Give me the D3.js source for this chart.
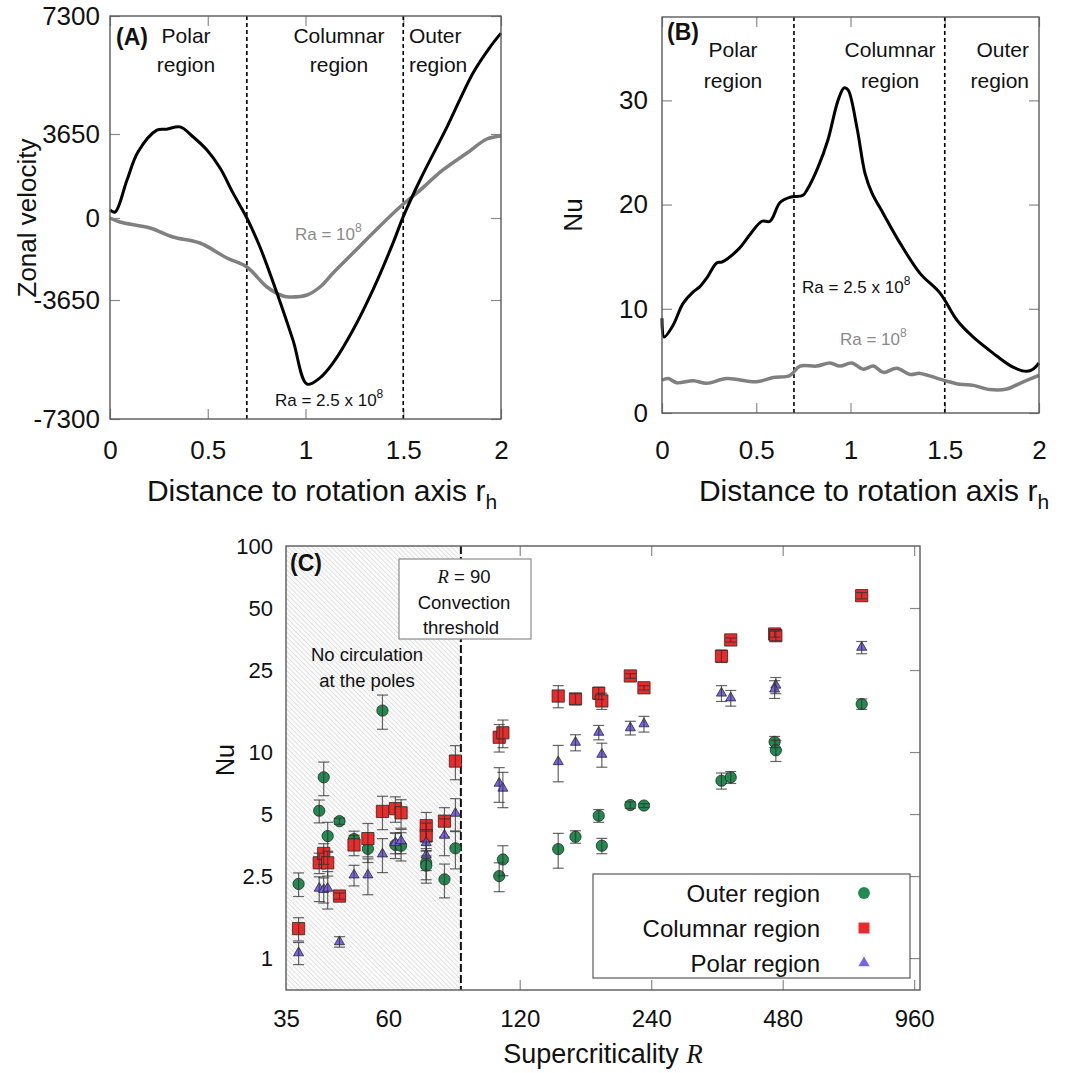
<!DOCTYPE html>
<html><head><meta charset="utf-8">
<script src="https://cdn.jsdelivr.net/npm/d3@7"></script>
<style>
body{margin:0;background:#fff}
svg{display:block}
text{font-family:"Liberation Sans",Arial,Helvetica,sans-serif;fill:#111}
</style>
</head><body>
<svg id="chart" width="1089" height="1073"></svg>
<script>
// ---------------- Panel A: zonal velocity ----------------
const rA_high = [0, 0.026, 0.087, 0.143, 0.24, 0.29, 0.358, 0.426, 0.496, 0.563, 0.629, 0.70, 0.767, 0.854, 0.936, 1.008, 1.074, 1.141, 1.243, 1.345, 1.448, 1.499, 1.586, 1.724, 1.857, 1.944, 2.0];
const vA_high = [350, 260, 1650, 2870, 3770, 3800, 3870, 3520, 2950, 2170, 1090, 0, -1290, -3340, -4880, -6230, -6040, -5580, -4570, -3200, -1110, 40, 1650, 3870, 5540, 6340, 6770];
const rA_low = [0, 0.051, 0.205, 0.322, 0.46, 0.598, 0.70, 0.803, 0.885, 0.92, 1.008, 1.074, 1.141, 1.243, 1.345, 1.483, 1.57, 1.703, 1.826, 1.928, 2.0];
const vA_low = [0, -180, -445, -846, -1113, -1780, -2181, -3072, -3472, -3517, -3428, -3072, -2448, -1558, -668, 478, 1086, 2086, 2824, 3433, 3563];
const yTicksA = [-7300, -3650, 0, 3650, 7300];

// ---------------- Panel B: Nusselt profile ----------------
const rB_high = [0, 0.011, 0.058, 0.111, 0.164, 0.2, 0.239, 0.29, 0.32, 0.41, 0.47, 0.53, 0.573, 0.626, 0.679, 0.748, 0.769, 0.828, 0.88, 0.934, 0.966, 0.987, 1.034, 1.077, 1.114, 1.172, 1.263, 1.369, 1.475, 1.565, 1.65, 1.756, 1.862, 1.936, 1.968, 2.0];
const nuB_high = [9.1, 7.3, 8.4, 10.5, 11.6, 12.1, 13.0, 14.4, 14.5, 15.8, 17.2, 18.4, 18.4, 20.2, 20.7, 20.9, 21.4, 23.6, 26.2, 30.0, 31.2, 31.0, 27.4, 23.0, 21.1, 19.2, 16.3, 13.4, 11.5, 8.9, 7.3, 5.75, 4.4, 4.0, 4.2, 4.8];
const rB_low = [0, 0.034, 0.078, 0.166, 0.237, 0.343, 0.502, 0.59, 0.679, 0.732, 0.82, 0.891, 0.944, 1.006, 1.068, 1.121, 1.174, 1.245, 1.316, 1.369, 1.492, 1.581, 1.652, 1.74, 1.829, 1.899, 2.0];
const nuB_low = [3.16, 3.3, 2.9, 3.1, 2.85, 3.3, 3.0, 3.4, 3.6, 4.5, 4.5, 4.8, 4.5, 4.8, 4.2, 4.5, 3.9, 4.3, 3.7, 3.8, 3.15, 2.75, 2.65, 2.25, 2.3, 2.85, 3.6];
const yTicksB = [0, 10, 20, 30];
const xTicksAB = [0, 0.5, 1, 1.5, 2];
const regionBounds = [0.7, 1.5];

// ---------------- Panel C: Nu vs supercriticality ----------------
const outerR   = [37.4, 41.7, 42.7, 43.6, 46.4, 50.1, 53.9, 58.2, 62.3, 64.2, 73.3, 73.3, 80.7, 85.5, 107.7, 109.8, 147, 161, 182, 185, 215, 231, 347.6, 365, 460, 463, 728];
const outerNu  = [2.29, 5.19, 7.54, 3.91, 4.62, 3.78, 3.39, 15.9, 3.54, 3.51, 2.9, 2.81, 2.41, 3.41, 2.5, 3.01, 3.38, 3.88, 4.91, 3.51, 5.53, 5.5, 7.26, 7.54, 11.2, 10.2, 17.1];
const outerErr = [0.3, 0.66, 1.4, 0.65, 0.16, 0.35, 0.48, 3.0, 0.5, 0.55, 0.5, 0.5, 0.45, 0.7, 0.4, 0.5, 0.65, 0.27, 0.35, 0.3, 0.2, 0.12, 0.65, 0.5, 0.7, 1.2, 1.0];
const colR     = [37.4, 41.7, 42.7, 43.6, 46.4, 50.1, 53.9, 58.2, 62.3, 64.2, 73.3, 73.3, 80.7, 85.5, 107.7, 109.8, 147, 161, 182, 185, 215, 231, 347.6, 365, 460, 463, 728];
const colNu    = [1.39, 2.9, 3.22, 2.9, 2.0, 3.54, 3.8, 5.15, 5.31, 5.07, 4.39, 3.92, 4.62, 9.04, 11.8, 12.4, 18.7, 18.1, 19.3, 17.7, 23.4, 20.5, 29.2, 35, 37.4, 36.7, 57.4];
const colErr   = [0.18, 0.33, 0.37, 0.4, 0.07, 0.4, 0.7, 0.95, 0.75, 0.8, 0.7, 0.6, 0.75, 1.7, 1.8, 1.9, 2.3, 1.1, 1.3, 1.6, 0.6, 0.5, 2.0, 0.8, 1.3, 2.0, 2.0];
const polarR   = [37.4, 41.7, 42.7, 43.6, 46.4, 50.1, 53.9, 58.2, 62.3, 64.2, 73.3, 73.3, 80.7, 85.5, 107.7, 109.8, 147, 161, 182, 185, 215, 231, 347.6, 365, 463, 460, 728];
const polarNu  = [1.06, 2.18, 2.15, 2.18, 1.2, 2.53, 2.53, 3.2, 3.63, 3.71, 3.63, 3.16, 3.94, 5.04, 7.05, 6.67, 8.97, 11.14, 12.46, 9.74, 13.1, 13.7, 19.3, 18.3, 21.1, 20.2, 32.2];
const polarErr = [0.13, 0.3, 0.3, 0.45, 0.07, 0.29, 0.5, 0.6, 0.42, 0.5, 0.5, 0.5, 0.8, 0.9, 1.35, 1.3, 1.8, 1.0, 1.0, 1.3, 1.0, 1.2, 1.7, 1.6, 1.9, 2.0, 2.2];
const xTicksC = [35, 60, 120, 240, 480, 960];
const yTicksC = [1, 2.5, 5, 10, 25, 50, 100];
const thresholdR = 88;
const legendLabels = ["Outer region", "Columnar region", "Polar region"];

// ---------------- drawing ----------------
const svg = d3.select("#chart");
const FONT = '"Liberation Sans",Arial,Helvetica,sans-serif';
const defs = svg.append("defs");
const pat = defs.append("pattern").attr("id","hatch").attr("patternUnits","userSpaceOnUse")
  .attr("width",3.4).attr("height",3.4).attr("patternTransform","rotate(-45)");
pat.append("rect").attr("width",3.4).attr("height",3.4).attr("fill","#fbfbfb");
pat.append("line").attr("x1",0).attr("y1",0).attr("x2",0).attr("y2",3.4).attr("stroke","#c6c6c6").attr("stroke-width",0.9);

function styleAxis(g, fs){
  g.select(".domain").remove();
  g.selectAll(".tick line").attr("stroke","#8a8a8a").attr("stroke-width",1.2);
  g.selectAll("text").attr("font-size",fs).attr("font-family",FONT).attr("fill","#111");
  g.attr("font-size",fs).attr("font-family",FONT);
}

function framedAxes(x, y, xt, yt, opts){
  const [x0,x1] = x.range(), [y1,y0] = [y.range()[0], y.range()[y.range().length-1]];
  const fmt = d => String(d);
  const gl = svg.append("g").attr("transform",`translate(${x0},0)`)
    .call(d3.axisLeft(y).tickValues(yt).tickSize(-10).tickPadding(opts.ypad).tickFormat(fmt));
  styleAxis(gl, opts.fs);
  const gr = svg.append("g").attr("transform",`translate(${x1},0)`)
    .call(d3.axisRight(y).tickValues(yt).tickSize(-10).tickFormat(""));
  styleAxis(gr, opts.fs);
  const gb = svg.append("g").attr("transform",`translate(0,${y1})`)
    .call(d3.axisBottom(x).tickValues(xt).tickSize(-10).tickPadding(opts.xpad).tickFormat(fmt));
  styleAxis(gb, opts.fs);
  const gt = svg.append("g").attr("transform",`translate(0,${y0})`)
    .call(d3.axisTop(x).tickValues(xt).tickSize(-10).tickFormat(""));
  styleAxis(gt, opts.fs);
}

function frame(x, y){
  const [x0,x1] = x.range(); const yr = y.range();
  const yb = yr[0], yt = yr[yr.length-1];
  svg.append("rect").attr("x",x0).attr("y",yt).attr("width",x1-x0).attr("height",yb-yt)
    .attr("fill","none").attr("stroke","#5a5a5a").attr("stroke-width",1.4);
}

function regionLines(x, y){
  const yr = y.range();
  regionBounds.forEach(b => {
    svg.append("line").attr("x1",x(b)).attr("x2",x(b)).attr("y1",yr[0]).attr("y2",yr[yr.length-1])
      .attr("stroke","#000").attr("stroke-width",1.6).attr("stroke-dasharray","4,3");
  });
}

function raLabel(xp, yp, color, high){
  const t = svg.append("text").attr("x",xp).attr("y",yp).attr("font-size",17).attr("fill",color).style("fill",color);
  t.append("tspan").text(high ? "Ra = 2.5 x 10" : "Ra = 10");
  t.append("tspan").attr("dy",-8).attr("font-size",12).text("8");
}

function xTitle(cx, y){
  const t = svg.append("text").attr("x",cx).attr("y",y).attr("text-anchor","middle").attr("font-size",30);
  t.append("tspan").text("Distance to rotation axis r");
  t.append("tspan").attr("dy",8).attr("font-size",21).text("h");
}

// ===== Panel A =====
const xA = d3.scaleLinear([0,2],[110,501]);
const yA = d3.scaleLinear(yTicksA,[419,300,218,134,16]);
framedAxes(xA, yA, xTicksAB, yTicksA, {fs:26, ypad:10, xpad:22});
regionLines(xA, yA);
const lineA = d3.line().curve(d3.curveCatmullRom.alpha(0.5));
svg.append("path").attr("d", lineA(rA_low.map((r,i)=>[xA(r), yA(vA_low[i])])))
  .attr("fill","none").attr("stroke","#808080").attr("stroke-width",3.5);
svg.append("path").attr("d", lineA(rA_high.map((r,i)=>[xA(r), yA(vA_high[i])])))
  .attr("fill","none").attr("stroke","#000").attr("stroke-width",3);
frame(xA, yA);
raLabel(xA(0.946), yA(-979), "#8a8a8a", false);
raLabel(xA(0.844), yA(-6901), "#111", true);
svg.append("text").attr("x",116).attr("y",45).attr("font-size",23).attr("font-weight","bold")
  .attr("font-family","'DejaVu Sans',sans-serif").text("(A)");
[["Polar",0.389,"middle"],["Columnar",1.171,"middle"],["Outer",1.529,"start"]].forEach(([w,r,a])=>{
  svg.append("text").attr("x",xA(r)).attr("y",43).attr("font-size",21).attr("text-anchor",a).text(w);
  svg.append("text").attr("x",xA(r)).attr("y",72).attr("font-size",21).attr("text-anchor",a).text("region");
});
svg.append("text").attr("transform","translate(36,218) rotate(-90)").attr("text-anchor","middle")
  .attr("font-size",26).text("Zonal velocity");
xTitle(322, 501);

// ===== Panel B =====
const xB = d3.scaleLinear([0,2],[662,1039]);
const yB = d3.scaleLinear([0,38],[413,17]);
framedAxes(xB, yB, xTicksAB, yTicksB, {fs:26, ypad:14, xpad:28});
regionLines(xB, yB);
svg.append("path").attr("d", lineA(rB_low.map((r,i)=>[xB(r), yB(nuB_low[i])])))
  .attr("fill","none").attr("stroke","#808080").attr("stroke-width",3.5);
svg.append("path").attr("d", lineA(rB_high.map((r,i)=>[xB(r), yB(nuB_high[i])])))
  .attr("fill","none").attr("stroke","#000").attr("stroke-width",3);
frame(xB, yB);
raLabel(xB(0.743), yB(11.5), "#111", true);
raLabel(xB(0.944), yB(6.5), "#8a8a8a", false);
svg.append("text").attr("x",667).attr("y",40).attr("font-size",23).attr("font-weight","bold")
  .attr("font-family","'DejaVu Sans',sans-serif").text("(B)");
[["Polar",0.377,"middle"],["Columnar",1.21,"middle"],["Outer",1.947,"end"]].forEach(([w,r,a])=>{
  svg.append("text").attr("x",xB(r)).attr("y",57).attr("font-size",21).attr("text-anchor",a).text(w);
  svg.append("text").attr("x",xB(r)).attr("y",88).attr("font-size",21).attr("text-anchor",a).text("region");
});
svg.append("text").attr("transform","translate(582,215) rotate(-90)").attr("text-anchor","middle")
  .attr("font-size",26).text("Nu");
xTitle(874, 501);

// ===== Panel C =====
const xC = d3.scaleLog([35,990],[286,920]);
const yC = d3.scaleLog([0.7,100],[990,546]);
// hatched "no circulation" area
svg.append("rect").attr("x",xC(35)).attr("y",yC(100)).attr("width",xC(thresholdR)-xC(35))
  .attr("height",yC(0.7)-yC(100)).attr("fill","url(#hatch)");
// labels
const glC = svg.append("g").attr("transform",`translate(${xC(35)},0)`)
  .call(d3.axisLeft(yC).tickValues(yTicksC).tickSize(0).tickPadding(13).tickFormat(d=>String(d)));
styleAxis(glC, 22);
const grC = svg.append("g").attr("transform",`translate(${xC(990)},0)`)
  .call(d3.axisRight(yC).tickValues(yTicksC.slice(0,6)).tickSize(-10).tickFormat(""));
styleAxis(grC, 22);
const gbC = svg.append("g").attr("transform",`translate(0,${yC(0.7)})`)
  .call(d3.axisBottom(xC).tickValues(xTicksC).tickSize(0).tickPadding(20).tickFormat(d=>String(d)));
styleAxis(gbC, 24);
const tickX = xTicksC.filter(d=>d>thresholdR);
const gbt = svg.append("g").attr("transform",`translate(0,${yC(0.7)})`)
  .call(d3.axisBottom(xC).tickValues(tickX).tickSize(-10).tickFormat(""));
styleAxis(gbt, 24);
const gtt = svg.append("g").attr("transform",`translate(0,${yC(100)})`)
  .call(d3.axisTop(xC).tickValues(tickX).tickSize(-10).tickFormat(""));
styleAxis(gtt, 24);

// threshold dashed line
svg.append("line").attr("x1",xC(thresholdR)).attr("x2",xC(thresholdR)).attr("y1",yC(100)).attr("y2",yC(0.7))
  .attr("stroke","#111").attr("stroke-width",2).attr("stroke-dasharray","8,3");

// threshold annotation box
svg.append("rect").attr("x",399).attr("y",559).attr("width",132).attr("height",80)
  .attr("fill","#fff").attr("stroke","#8a8a8a").attr("stroke-width",1.2);
const tR = svg.append("text").attr("x",464).attr("y",583).attr("text-anchor","middle").attr("font-size",18.5);
tR.append("tspan").attr("font-family","'Liberation Serif','DejaVu Serif',serif").attr("font-style","italic").text("R");
tR.append("tspan").text(" = 90");
svg.append("text").attr("x",464).attr("y",609).attr("text-anchor","middle").attr("font-size",18.5).text("Convection");
svg.append("text").attr("x",461).attr("y",634).attr("text-anchor","middle").attr("font-size",18.5).text("threshold");
svg.append("text").attr("x",367).attr("y",661).attr("text-anchor","middle").attr("font-size",18.5).text("No circulation");
svg.append("text").attr("x",367).attr("y",687).attr("text-anchor","middle").attr("font-size",18.5).text("at the poles");

// series
const series = [
  {R:outerR, nu:outerNu, err:outerErr, color:"#228a4f", sym:d3.symbolCircle, size:100},
  {R:colR, nu:colNu, err:colErr, color:"#ec2a2a", sym:d3.symbolSquare, size:150},
  {R:polarR, nu:polarNu, err:polarErr, color:"#7a63e8", sym:d3.symbolTriangle, size:44}
];
series.forEach(s => {
  const g = svg.append("g");
  s.R.forEach((r,i) => {
    g.append("path").attr("d", d3.symbol().type(s.sym).size(s.size)())
      .attr("transform",`translate(${xC(r)},${yC(s.nu[i])})`)
      .attr("fill",s.color).attr("stroke","#222").attr("stroke-width",0.9).attr("stroke-opacity",0.85);
  });
  s.R.forEach((r,i) => {
    const cx = xC(r), ylo = yC(Math.max(0.71, s.nu[i]-s.err[i])), yhi = yC(s.nu[i]+s.err[i]);
    const eg = g.append("g").attr("stroke","#333").attr("stroke-opacity",0.75).attr("stroke-width",1.2);
    eg.append("line").attr("x1",cx).attr("x2",cx).attr("y1",ylo).attr("y2",yhi);
    eg.append("line").attr("x1",cx-5.5).attr("x2",cx+5.5).attr("y1",ylo).attr("y2",ylo);
    eg.append("line").attr("x1",cx-5.5).attr("x2",cx+5.5).attr("y1",yhi).attr("y2",yhi);
  });
});

// frame C
svg.append("rect").attr("x",xC(35)).attr("y",yC(100)).attr("width",xC(990)-xC(35)).attr("height",yC(0.7)-yC(100))
  .attr("fill","none").attr("stroke","#5a5a5a").attr("stroke-width",1.4);

// legend
svg.append("rect").attr("x",593).attr("y",874).attr("width",317).attr("height",104)
  .attr("fill","#fff").attr("stroke","#5a5a5a").attr("stroke-width",1.2);
legendLabels.forEach((lab,i) => {
  const yy = 902 + i*35;
  svg.append("text").attr("x",820).attr("y",yy).attr("text-anchor","end").attr("font-size",24).text(lab);
  svg.append("path").attr("d", d3.symbol().type(series[i].sym).size([110,120,55][i])())
    .attr("transform",`translate(864,${yy-9})`).attr("fill",series[i].color);
});

svg.append("text").attr("x",603).attr("y",1063).attr("text-anchor","middle").attr("font-size",27)
  .call(t => { t.append("tspan").text("Supercriticality ");
               t.append("tspan").attr("font-family","'Liberation Serif','DejaVu Serif',serif").attr("font-style","italic").text("R"); });
svg.append("text").attr("transform","translate(234,760) rotate(-90)").attr("text-anchor","middle")
  .attr("font-size",25).text("Nu");
svg.append("text").attr("x",290).attr("y",571).attr("font-size",23).attr("font-weight","bold")
  .attr("font-family","'DejaVu Sans',sans-serif").text("(C)");
</script>
</body></html>
